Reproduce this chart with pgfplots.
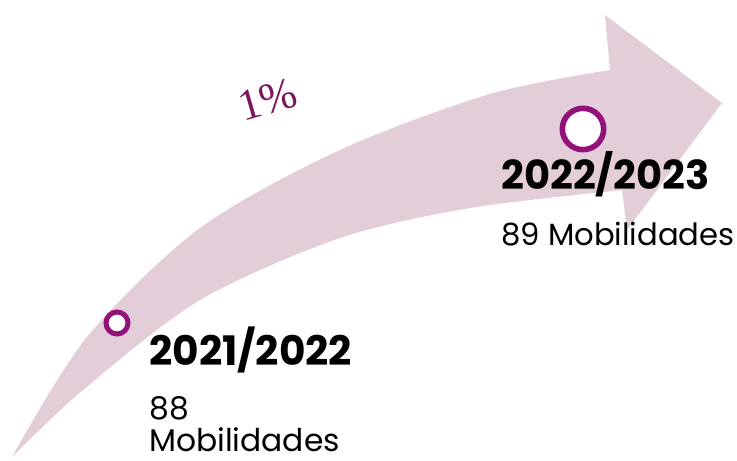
\documentclass[border=0pt]{standalone}
\usepackage{pgfplots}
\pgfplotsset{compat=1.18}
\usepgfplotslibrary{fillbetween}
\usepackage{fontspec}
\setmainfont{Poppins}
\newfontfamily\pctfont{Liberation Serif}

\definecolor{arrowpink}{RGB}{226,205,216}
\definecolor{ringpurple}{RGB}{146,18,122}
\definecolor{pctpurple}{RGB}{122,22,92}

\begin{document}
\begin{tikzpicture}
\begin{axis}[
    width=552.75pt, height=345pt,
    scale only axis,
    xmin=0, xmax=737,
    ymin=0, ymax=460,
    y dir=reverse,
    axis line style={draw=none},
    xtick=\empty, ytick=\empty,
    clip=false,
]

% shaft edges, pixel units
\addplot[name path=upper, draw=none, smooth] coordinates {
    (12,457) (87,337) (200,228) (340,150) (490,94) (610,70)
};
\addplot[name path=lower, draw=none, smooth] coordinates {
    (12,457) (83,390) (200,300) (340,238) (470,208) (622,190)
};
\addplot[arrowpink] fill between[of=upper and lower];

% arrow head
\addplot[fill=arrowpink, draw=none] coordinates {
    (585,76) (610,70) (605,15) (722,103) (627,230) (622,190) (588,193)
} -- cycle;

% year markers
\addplot[only marks, mark=*, mark size=8.25pt,
    mark options={draw=ringpurple, fill=white, line width=3.75pt}]
    coordinates {(117,323)};
\addplot[only marks, mark=*, mark size=15.5pt,
    mark options={draw=ringpurple, fill=white, line width=4.2pt}]
    coordinates {(583,129)};

% growth label
\node[rotate=16, text=pctpurple, font=\pctfont\fontsize{33}{33}\selectfont]
    at (axis cs:268,100) {1\%};

% labels
\node[anchor=base west, inner sep=0, font=\bfseries\fontsize{30.5}{30.5}\selectfont]
    at (axis cs:149,366) {2021/2022};
\node[anchor=base west, inner sep=0, font=\fontsize{23.5}{23.5}\selectfont]
    at (axis cs:149,419) {88};
\node[anchor=base west, inner sep=0, font=\fontsize{23.5}{23.5}\selectfont]
    at (axis cs:149,451) {Mobilidades};

\node[anchor=base west, inner sep=0, font=\bfseries\fontsize{30}{30}\selectfont]
    at (axis cs:501,190) {2022/2023};
\node[anchor=base west, inner sep=0, font=\fontsize{23}{23}\selectfont]
    at (axis cs:501,246) {89 Mobilidades};

\end{axis}
\end{tikzpicture}
\end{document}
